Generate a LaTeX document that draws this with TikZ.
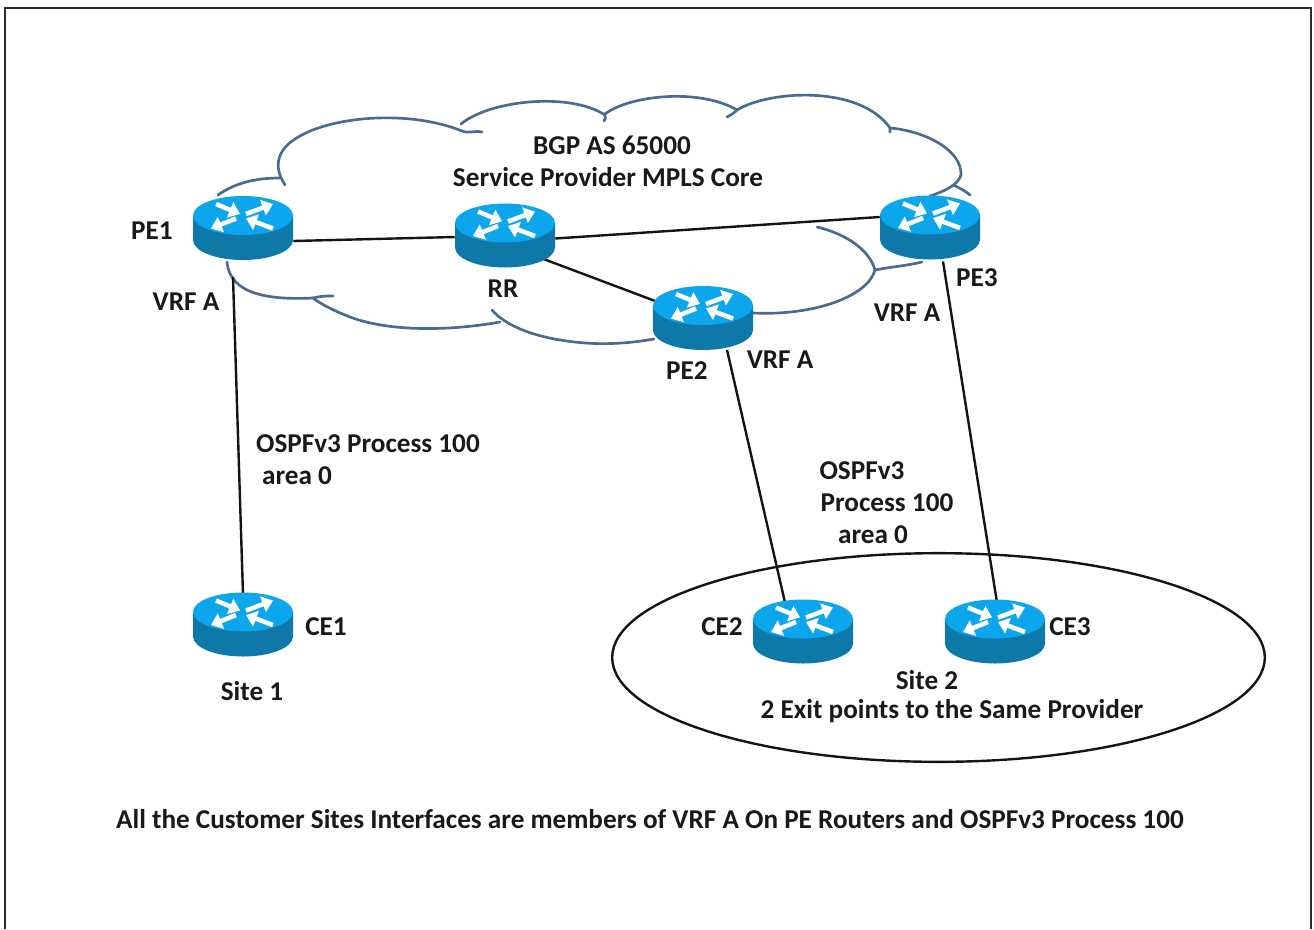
\documentclass[tikz,border=0pt]{standalone}
\usepackage{fontspec}
\setmainfont{Carlito}
\usetikzlibrary{arrows.meta,shapes.geometric}
\definecolor{rtop}{HTML}{0CA6EC}
\definecolor{rside}{HTML}{0E78A8}
\definecolor{cloudc}{HTML}{4A6A92}
\definecolor{framec}{HTML}{2A2A2A}
\tikzset{
  x=0.75pt,y=-0.75pt,
  routerbox/.style={shape=rectangle,minimum width=75pt,minimum height=47.5pt,inner sep=0pt},
  lbl/.style={font=\fontsize{20.4pt}{24pt}\selectfont\bfseries,text=black!90,inner sep=0pt,align=center},
  link/.style={line width=1.8pt,black!92},
  cloudline/.style={line width=2pt,cloudc,line cap=round},
  rarrow/.style={white,line width=3.4pt,-{Triangle[length=8pt,width=12pt]}},
}
\newcommand{\routerart}[1]{%
  \begin{scope}[shift={(#1)}]
    \fill[rside] (-50,-13) -- (-50,12) arc[start angle=180,end angle=0,x radius=50,y radius=20] -- (50,-13) -- cycle;
    \fill[rtop] (0,-12.5) ellipse[x radius=50,y radius=19.5];
    \draw[rarrow] (-27,-24) -- (-3,-14);
    \draw[rarrow] (3,-14) -- (30,-24);
    \draw[rarrow] (-7,-9.5) -- (-32,0.5);
    \draw[rarrow] (30,0.5) -- (3,-9.5);
  \end{scope}}
\begin{document}
\begin{tikzpicture}
\useasboundingbox (0,0) rectangle (1314,929);
\fill[white] (0,0) rectangle (1314,929);
% frame
\draw[framec,line width=2pt] (5,929) -- (5,8) -- (1311,8) -- (1311,929);
% cloud
\draw[cloudline] (218,195) .. controls (235,183) and (255,178) .. (280,178);
\draw[cloudline] (285,185) .. controls (272,165) and (278,148) .. (300,136) .. controls (335,116) and (410,110) .. (462,131) .. controls (470,134) and (476,130) .. (482,132);
\draw[cloudline] (461,124) .. controls (490,100) and (570,92) .. (605,115) .. controls (606,118) and (605,119) .. (604,121);
\draw[cloudline] (605,114) .. controls (630,95) and (700,88) .. (737,110) .. controls (734,113) and (731,115) .. (727,117);
\draw[cloudline] (737,110) .. controls (770,90) and (860,85) .. (890,128) .. controls (890,130) and (890,131) .. (890,132);
\draw[cloudline] (890,128) .. controls (925,131) and (962,150) .. (961,175) .. controls (958,185) and (945,191) .. (930,196);
\draw[cloudline] (953,185) .. controls (960,188) and (965,191) .. (970,195);
\draw[cloudline] (922,262) .. controls (905,266) and (890,267) .. (875,270);
\draw[cloudline] (817,227) .. controls (850,235) and (870,252) .. (875,270) .. controls (868,296) and (815,316) .. (753,313);
\draw[cloudline] (654,339) .. controls (620,345) and (590,345) .. (560,340) .. controls (530,335) and (505,325) .. (492,310);
\draw[cloudline] (500,322) .. controls (450,331) and (390,332) .. (350,317) .. controls (335,311) and (322,305) .. (313,298) .. controls (320,296) and (326,296) .. (333,296);
\draw[cloudline] (313,298) .. controls (270,300) and (230,295) .. (227,262);
% routers
\node[routerbox] (pe1) at (243,228) {};
\node[routerbox] (rr) at (505,235.5) {};
\node[routerbox] (pe2) at (703,318) {};
\node[routerbox] (pe3) at (930,227.5) {};
\node[routerbox] (ce1) at (243,624.5) {};
\node[routerbox] (ce2) at (803,631.5) {};
\node[routerbox] (ce3) at (995,631.5) {};
% site ellipse
\node[shape=ellipse,draw,line width=1.8pt,black!92,minimum width=489.5pt,minimum height=156.5pt,inner sep=0pt] (site2) at (938.5,657.5) {};
% links
\draw[link] ([shift={(0,13)}]pe1.east) -- ([shift={(0,1.5)}]rr.west);
\draw[link] ([shift={(0,3)}]rr.east) -- ([shift={(0,-10.5)}]pe3.west);
\draw[link] ([shift={(37,-9)}]rr.south) -- ([shift={(-48,-49)}]pe2.south);
\draw[link] ([shift={(-10,17)}]pe1.south) -- ([shift={(0,2)}]ce1.north);
\draw[link] ([shift={(24,0)}]pe2.south) -- ([shift={(-18,3)}]ce2.north);
\draw[link] ([shift={(13,2)}]pe3.south) -- ([shift={(2,3)}]ce3.north);
\routerart{243,228}
\routerart{505,235.5}
\routerart{703,318}
\routerart{930,227.5}
\routerart{243,624.5}
\routerart{803,631.5}
\routerart{995,631.5}
% labels
\node[lbl] (tpe1) at (152,231) {PE1};
\node[lbl] (tvrf1) at (186,302) {VRF A};
\node[lbl] (trr) at (503,289) {RR};
\node[lbl] (tpe2) at (687,371) {PE2};
\node[lbl] (tvrf2) at (780,360) {VRF A};
\node[lbl] (tpe3) at (977,278) {PE3};
\node[lbl] (tvrf3) at (907,313) {VRF A};
\node[lbl] (tbgp) at (612,145) {BGP AS 65000};
\node[lbl] (tsp) at (608,177) {Service Provider MPLS Core};
\node[lbl] (tospf1) at (368,444) {OSPFv3 Process 100};
\node[lbl] (tarea1) at (297,476) {area 0};
\node[lbl] (tce1) at (326,627) {CE1};
\node[lbl] (tsite1) at (252,691) {Site 1};
\node[lbl] (tospf2) at (862,471) {OSPFv3};
\node[lbl] (tproc2) at (887,503) {Process 100};
\node[lbl] (tarea2) at (873,535) {area 0};
\node[lbl] (tce2) at (722,627) {CE2};
\node[lbl] (tce3) at (1070,627) {CE3};
\node[lbl] (tsite2) at (927,680) {Site 2};
\node[lbl] (texit) at (952,711) {2 Exit points to the Same Provider};
\node[lbl] (tall) at (650,819) {All the Customer Sites Interfaces are members of VRF A On PE Routers and OSPFv3 Process 100};
\end{tikzpicture}
\end{document}
